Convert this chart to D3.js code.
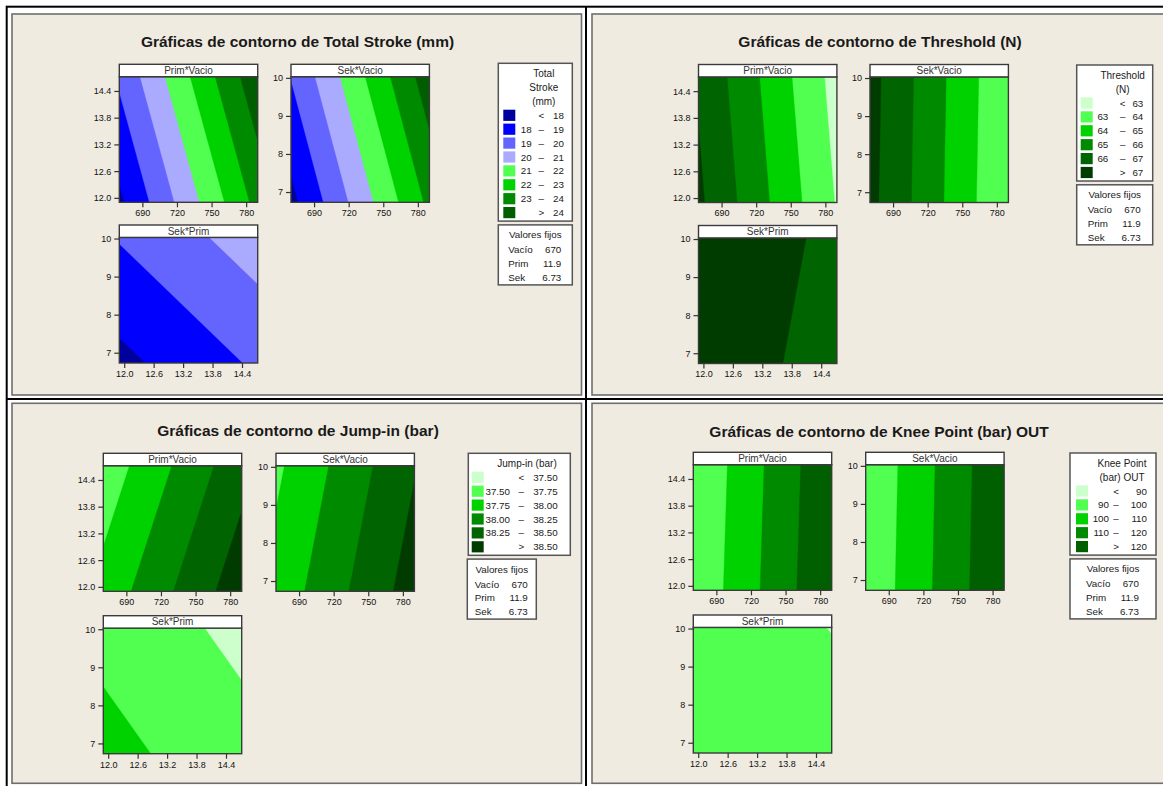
<!DOCTYPE html>
<html><head><meta charset="utf-8">
<script src="https://cdn.jsdelivr.net/npm/d3@7"></script>
<style>
html,body{margin:0;padding:0;background:#fff;}
svg{display:block;}
</style></head><body>
<svg id="chart" width="1163" height="786"></svg>
<script>
// ================= DATA =================
const vacioRange = [670, 790];
const primRange = [11.9, 14.72];
const sekRange = [6.73, 10.03];
const vacioTicks = [690, 720, 750, 780];
const primTicks = [12.0, 12.6, 13.2, 13.8, 14.4];
const sekTicks = [7, 8, 9, 10];

const subplotNames = ["Prim*Vacio", "Sek*Vacio", "Sek*Prim"];
const fixedNames = ["Vacío", "Prim", "Sek"];
const fixedValues = ["670", "11.9", "6.73"];

// corner values of each response surface: [bottom-left, bottom-right, top-left, top-right]
// Total Stroke (mm)
const strokeLevels = [18, 19, 20, 21, 22, 23, 24];
const strokePrimVacio = [17.80, 23.33, 19.17, 24.70];
const strokeSekVacio = [17.71, 23.23, 19.04, 24.56];
const strokeSekPrim = [17.73, 19.155, 19.07, 20.50];
// Threshold (N)
const thresholdLevels = [63, 64, 65, 66, 67];
const thresholdPrimVacio = [67.19, 62.93, 66.88, 62.62];
const thresholdSekVacio = [67.27, 63.02, 67.34, 63.09];
const thresholdSekPrim = [67.195, 66.875, 67.249, 66.929];
// Jump-in (bar)
const jumpLevels = [37.50, 37.75, 38.00, 38.25, 38.50];
const jumpPrimVacio = [37.836, 38.653, 37.596, 38.413];
const jumpSekVacio = [37.839, 38.619, 37.703, 38.483];
const jumpSekPrim = [37.833, 37.591, 37.677, 37.435];
// Knee Point (bar) OUT
const kneeLevels = [90, 100, 110, 120];
const kneePrimVacio = [91.82, 129.52, 90.73, 128.43];
const kneeSekVacio = [92.09, 129.29, 91.37, 128.57];
const kneeSekPrim = [91.856, 90.756, 91.056, 89.956];

// ================= STYLE =================
const strokeColors = ["#00009c", "#0000ff", "#6464ff", "#aaaaff", "#50ff50", "#00d200", "#008a00", "#005e00"];
const greens6 = ["#ccffcc", "#50ff50", "#00d200", "#008a00", "#006400", "#003c00"];
const greens5 = ["#ccffcc", "#50ff50", "#00d200", "#008a00", "#006000"];
const FONT = '"Liberation Sans", Arial, sans-serif';
const BG = "#f0ebe1";

const panels = [
  { title: "Gráficas de contorno de Total Stroke (mm)", legendTitle: ["Total", "Stroke", "(mm)"],
    levels: strokeLevels, colors: strokeColors, fmt: d3.format("d"),
    grids: [strokePrimVacio, strokeSekVacio, strokeSekPrim],
    frame: [12, 14, 581.5, 395], titleX: 297.5, titleY: 47, cols: [119.3, 291], rows: [64.3, 225],
    legend: { x: 498.3, y: 63.3, w: 74, sw: 5, low: 33.4, dash: 43, up: 65.7 }, vf: { x: 498.3, w: 74 } },
  { title: "Gráficas de contorno de Threshold (N)", legendTitle: ["Threshold", "(N)"],
    levels: thresholdLevels, colors: greens6, fmt: d3.format("d"),
    grids: [thresholdPrimVacio, thresholdSekVacio, thresholdSekPrim],
    frame: [592, 14, 1175, 395], titleX: 880, titleY: 47, cols: [698.5, 870], rows: [64.5, 225.5],
    legend: { x: 1076.7, y: 65, w: 76, sw: 4, low: 31.6, dash: 46, up: 66.6 }, vf: { x: 1076.7, w: 76 } },
  { title: "Gráficas de contorno de Jump-in (bar)", legendTitle: ["Jump-in (bar)"],
    levels: jumpLevels, colors: greens6, fmt: d3.format(".2f"),
    grids: [jumpPrimVacio, jumpSekVacio, jumpSekPrim],
    frame: [12, 403.3, 581.5, 783.3], titleX: 298, titleY: 436, cols: [103.3, 276], rows: [453.3, 615.7],
    legend: { x: 468.3, y: 453.3, w: 102, sw: 3.4, low: 41.7, dash: 53, up: 89.4 }, vf: { x: 467.3, w: 69 } },
  { title: "Gráficas de contorno de Knee Point (bar) OUT", legendTitle: ["Knee Point", "(bar) OUT"],
    levels: kneeLevels, colors: greens5, fmt: d3.format("d"),
    grids: [kneePrimVacio, kneeSekVacio, kneeSekPrim],
    frame: [592, 403.3, 1175, 783.3], titleX: 879, titleY: 436.5, cols: [693.3, 865.7], rows: [452.3, 615],
    legend: { x: 1070, y: 453, w: 86, sw: 6, low: 39, dash: 46, up: 77 }, vf: { x: 1070, w: 86 } }
];

const fmt1 = d3.format(".1f"), fmtD = d3.format("d");
const subplotAxes = [
  { xDom: vacioRange, yDom: primRange, xT: vacioTicks, yT: primTicks, xF: fmtD, yF: fmt1 },
  { xDom: vacioRange, yDom: sekRange, xT: vacioTicks, yT: sekTicks, xF: fmtD, yF: fmtD },
  { xDom: primRange, yDom: sekRange, xT: primTicks, yT: sekTicks, xF: fmt1, yF: fmtD }
];

// ================= DRAW =================
const svg = d3.select("#chart").attr("font-family", FONT);
svg.append("rect").attr("width", 1163).attr("height", 786).attr("fill", "#fff");

const tl = svg.append("g").attr("stroke", "#000").attr("stroke-width", 2).attr("fill", "none");
tl.append("rect").attr("x", 6.7).attr("y", 6.7).attr("width", 1200).attr("height", 800);
tl.append("line").attr("x1", 586).attr("x2", 586).attr("y1", 6).attr("y2", 786);
tl.append("line").attr("x1", 6).attr("x2", 1163).attr("y1", 399).attr("y2", 399);

let clipId = 0;
const W = 138.4, HH = 12.4, H = 125.6;

function drawSubplot(g, x0, headerTop, name, ax, corners, levels, colors) {
  const top = headerTop + HH;
  const xs = d3.scaleLinear().domain(ax.xDom).range([x0, x0 + W]);
  const ys = d3.scaleLinear().domain(ax.yDom).range([top + H, top]);
  const id = "clip" + (clipId++);
  g.append("clipPath").attr("id", id).append("rect")
    .attr("x", x0).attr("y", top).attr("width", W).attr("height", H);
  const body = g.append("g").attr("clip-path", `url(#${id})`);
  body.append("rect").attr("x", x0).attr("y", top).attr("width", W).attr("height", H).attr("fill", colors[0]);
  const gx = d3.scaleLinear().domain([0.5, 1.5]).range(ax.xDom);
  const gy = d3.scaleLinear().domain([0.5, 1.5]).range(ax.yDom);
  const proj = d3.geoTransform({ point(px, py) { this.stream.point(xs(gx(px)), ys(gy(py))); } });
  const path = d3.geoPath(proj);
  const cs = d3.contours().size([2, 2]).thresholds(levels)(corners);
  body.selectAll("path").data(cs).join("path")
    .attr("d", path)
    .attr("fill", d => colors[levels.indexOf(d.value) + 1])
    .attr("stroke", d => colors[levels.indexOf(d.value) + 1]).attr("stroke-width", 0.3);

  g.append("rect").attr("x", x0).attr("y", top).attr("width", W).attr("height", H)
    .attr("fill", "none").attr("stroke", "#3a3a3a").attr("stroke-width", 1.4);
  g.append("rect").attr("x", x0).attr("y", headerTop).attr("width", W).attr("height", HH)
    .attr("fill", "#fff").attr("stroke", "#3a3a3a").attr("stroke-width", 1.4);
  g.append("text").attr("x", x0 + W / 2).attr("y", headerTop + HH / 2 + 3.5)
    .attr("text-anchor", "middle").attr("font-size", 10).attr("fill", "#333").text(name);

  const xa = g.append("g").attr("transform", `translate(0,${top + H})`)
    .call(d3.axisBottom(xs).tickValues(ax.xT).tickFormat(ax.xF).tickSize(5).tickPadding(2.5));
  const ya = g.append("g").attr("transform", `translate(${x0},0)`)
    .call(d3.axisLeft(ys).tickValues(ax.yT).tickFormat(ax.yF).tickSize(5).tickPadding(3));
  [xa, ya].forEach(a => {
    a.select(".domain").remove();
    a.attr("font-family", FONT).attr("font-size", 9);
    a.selectAll("line").attr("stroke", "#333").attr("stroke-width", 1.2);
    a.selectAll("text").attr("fill", "#111");
  });
}

function drawLegend(g, P) {
  const L = P.legend, levels = P.levels, colors = P.colors, fmt = P.fmt;
  const n = levels.length + 1, rowH = 13.9;
  const firstRow = L.y + 10 + P.legendTitle.length * 14;
  const bottom = firstRow + (n - 1) * rowH + 8.5;
  g.append("rect").attr("x", L.x).attr("y", L.y).attr("width", L.w).attr("height", bottom - L.y)
    .attr("fill", "#fff").attr("stroke", "#555").attr("stroke-width", 1.5);
  const tx = (L.x + L.sw + 12 + L.x + L.w) / 2;
  P.legendTitle.forEach((t, i) => {
    g.append("text").attr("x", tx).attr("y", L.y + 10 + i * 14 + 3.5).attr("text-anchor", "middle")
      .attr("font-size", 10).attr("fill", "#1a1a1a").text(t);
  });
  d3.range(n).forEach(i => {
    const cy = firstRow + i * rowH;
    g.append("rect").attr("x", L.x + L.sw).attr("y", cy - 5.6).attr("width", 12).attr("height", 11.2)
      .attr("fill", colors[i]);
    const t = g.append("g").attr("font-size", 9.8).attr("fill", "#1a1a1a");
    const by = cy + 3.5;
    if (i === 0) {
      t.append("text").attr("x", L.x + L.dash).attr("y", by).attr("text-anchor", "middle").text("<");
      t.append("text").attr("x", L.x + L.up).attr("y", by).attr("text-anchor", "end").text(fmt(levels[0]));
    } else if (i === n - 1) {
      t.append("text").attr("x", L.x + L.dash).attr("y", by).attr("text-anchor", "middle").text(">");
      t.append("text").attr("x", L.x + L.up).attr("y", by).attr("text-anchor", "end").text(fmt(levels[n - 2]));
    } else {
      t.append("text").attr("x", L.x + L.low).attr("y", by).attr("text-anchor", "end").text(fmt(levels[i - 1]));
      t.append("text").attr("x", L.x + L.dash).attr("y", by).attr("text-anchor", "middle").text("–");
      t.append("text").attr("x", L.x + L.up).attr("y", by).attr("text-anchor", "end").text(fmt(levels[i]));
    }
  });
  const V = P.vf, vy = bottom + 3.8, vh = 60;
  g.append("rect").attr("x", V.x).attr("y", vy).attr("width", V.w).attr("height", vh)
    .attr("fill", "#fff").attr("stroke", "#555").attr("stroke-width", 1.5);
  const cx = V.x + V.w / 2;
  g.append("text").attr("x", cx).attr("y", vy + 10 + 3.5).attr("text-anchor", "middle")
    .attr("font-size", 9.8).attr("fill", "#1a1a1a").text("Valores fijos");
  fixedNames.forEach((nm, i) => {
    const by = vy + 25 + i * 13.6 + 3.5;
    g.append("text").attr("x", cx - 27).attr("y", by).attr("font-size", 9.8).attr("fill", "#1a1a1a").text(nm);
    g.append("text").attr("x", cx + 26).attr("y", by).attr("text-anchor", "end").attr("font-size", 9.8)
      .attr("fill", "#1a1a1a").text(fixedValues[i]);
  });
}

panels.forEach(P => {
  const g = svg.append("g");
  const [fx0, fy0, fx1, fy1] = P.frame;
  g.append("rect").attr("x", fx0).attr("y", fy0).attr("width", fx1 - fx0).attr("height", fy1 - fy0)
    .attr("fill", BG).attr("stroke", "#6e6e6e").attr("stroke-width", 1.6);
  g.append("text").attr("x", P.titleX).attr("y", P.titleY).attr("text-anchor", "middle")
    .attr("font-size", 15.5).attr("font-weight", "bold").attr("fill", "#1a1a1a").text(P.title);
  const pos = [[P.cols[0], P.rows[0]], [P.cols[1], P.rows[0]], [P.cols[0], P.rows[1]]];
  pos.forEach((p, k) => drawSubplot(g, p[0], p[1], subplotNames[k], subplotAxes[k], P.grids[k], P.levels, P.colors));
  drawLegend(g, P);
});
</script>
</body></html>
